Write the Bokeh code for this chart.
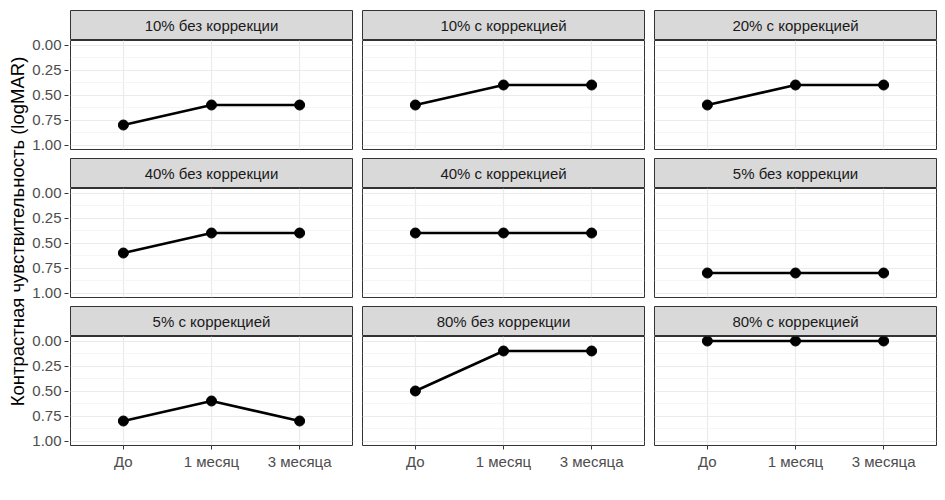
from bokeh.embed import file_html
from bokeh.resources import INLINE
from bokeh.layouts import row, column
from bokeh.models import ColumnDataSource, Range1d, FixedTicker, LinearAxis
from bokeh.core.properties import value
from bokeh.plotting import figure
import math

# контрастная чувствительность по группам, три визита

timepoints = ["До", "1 месяц", "3 месяца"]
groups = ["10% без коррекции", "10% с коррекцией", "20% с коррекцией",
          "40% без коррекции", "40% с коррекцией", "5% без коррекции",
          "5% с коррекцией", "80% без коррекции", "80% с коррекцией"]
before = [0.8, 0.6, 0.6, 0.6, 0.4, 0.8, 0.8, 0.5, 0.0]
month1 = [0.6, 0.4, 0.4, 0.4, 0.4, 0.8, 0.6, 0.1, 0.0]
month3 = [0.6, 0.4, 0.4, 0.4, 0.4, 0.8, 0.8, 0.1, 0.0]
y_ticks = [0.0, 0.25, 0.5, 0.75, 1.0]
y_minor = [0.125, 0.375, 0.625, 0.875]

FONT = "Liberation Sans"
x_pos = list(range(1, len(timepoints) + 1))
Y_LO, Y_HI = -0.045, 1.045


def style_axis(a):
    a.axis_line_color = None
    a.major_tick_line_color = "#333333"
    a.major_tick_out = 4
    a.major_tick_in = 0
    a.minor_tick_line_color = None
    a.major_label_text_font = FONT
    a.major_label_text_font_size = "15px"
    a.major_label_text_color = "#4d4d4d"
    a.major_label_standoff = 3


def strip_h(r):
    return 40 if r == 0 else 30


def panel_h(r):
    return 139 if r == 2 else 118


def left_b(col):
    return 1 if col == 0 else 9


def strip(label, col, r):
    s = figure(width=284 if col == 0 else 292, height=strip_h(r),
               x_range=Range1d(0, 1), y_range=Range1d(0, 1),
               x_axis_location=None, y_axis_location=None,
               toolbar_location=None, output_backend="svg",
               min_border_left=left_b(col), min_border_right=1,
               min_border_top=strip_h(r) - 30, min_border_bottom=0)
    s.grid.visible = False
    s.background_fill_color = "#d9d9d9"
    s.outline_line_color = "#333333"
    s.outline_line_width = 1
    s.text(x=[0.5], y=[0.5], text=[label], text_align="center", text_baseline="middle",
           text_font=value(FONT), text_font_size="15px", text_color="#1a1a1a")
    return s


def panel(i, col, r):
    last = r == 2
    p = figure(width=284 if col == 0 else 292, height=panel_h(r),
               x_range=Range1d(0.4, 3.6), y_range=Range1d(Y_HI, Y_LO),
               x_axis_location=None, y_axis_location=None,
               toolbar_location=None, output_backend="svg",
               min_border_left=left_b(col), min_border_right=1,
               min_border_top=0, min_border_bottom=30 if last else 9)
    p.outline_line_color = "#333333"
    p.outline_line_width = 1
    p.xgrid.ticker = FixedTicker(ticks=x_pos)
    p.ygrid.ticker = FixedTicker(ticks=y_ticks, minor_ticks=y_minor)
    p.grid.grid_line_color = "#ebebeb"
    p.grid.grid_line_width = 1.2
    p.ygrid.minor_grid_line_color = "#f2f2f2"
    p.ygrid.minor_grid_line_width = 0.8

    src = ColumnDataSource(dict(x=x_pos, y=[before[i], month1[i], month3[i]]))
    p.line("x", "y", source=src, line_color="black", line_width=2.5)
    p.scatter("x", "y", source=src, size=10, color="black")

    if last:
        xa = LinearAxis(ticker=FixedTicker(ticks=x_pos),
                        major_label_overrides=dict(zip(x_pos, timepoints)))
        style_axis(xa)
        p.add_layout(xa, "below")
    return p


def y_axis_fig(r):
    # отдельная узкая фигура под ось Y, чтобы подписи не обрезались сверху
    f = figure(width=40, height=strip_h(r) + panel_h(r),
               x_range=Range1d(0, 1), y_range=Range1d(Y_HI, Y_LO),
               x_axis_location=None, y_axis_location=None,
               toolbar_location=None, output_backend="svg",
               min_border_left=39, min_border_right=0,
               min_border_top=strip_h(r), min_border_bottom=30 if r == 2 else 9)
    f.grid.visible = False
    f.outline_line_color = None
    ya = LinearAxis(ticker=FixedTicker(ticks=y_ticks),
                    major_label_overrides={t: f"{t:.2f}" for t in y_ticks})
    style_axis(ya)
    f.add_layout(ya, "left")
    return f


rows = []
for r in range(3):
    cells = [y_axis_fig(r)]
    for col in range(3):
        i = r * 3 + col
        cells.append(column(strip(groups[i], col, r), panel(i, col, r)))
    rows.append(row(*cells))

ylab = figure(width=29, height=462, x_range=Range1d(0, 1), y_range=Range1d(0, 1),
              x_axis_location=None, y_axis_location=None,
              toolbar_location=None, output_backend="svg",
              min_border_left=0, min_border_right=0, min_border_top=0, min_border_bottom=0)
ylab.grid.visible = False
ylab.outline_line_color = None
ylab.text(x=[0.59], y=[0.5], text=["Контрастная чувствительность (logMAR)"],
          angle=math.pi / 2, text_align="center", text_baseline="middle",
          text_font=value(FONT), text_font_size="18.5px", text_color="black")

p = row(ylab, column(*rows))

open("out.html", "w").write(file_html(p, INLINE))
